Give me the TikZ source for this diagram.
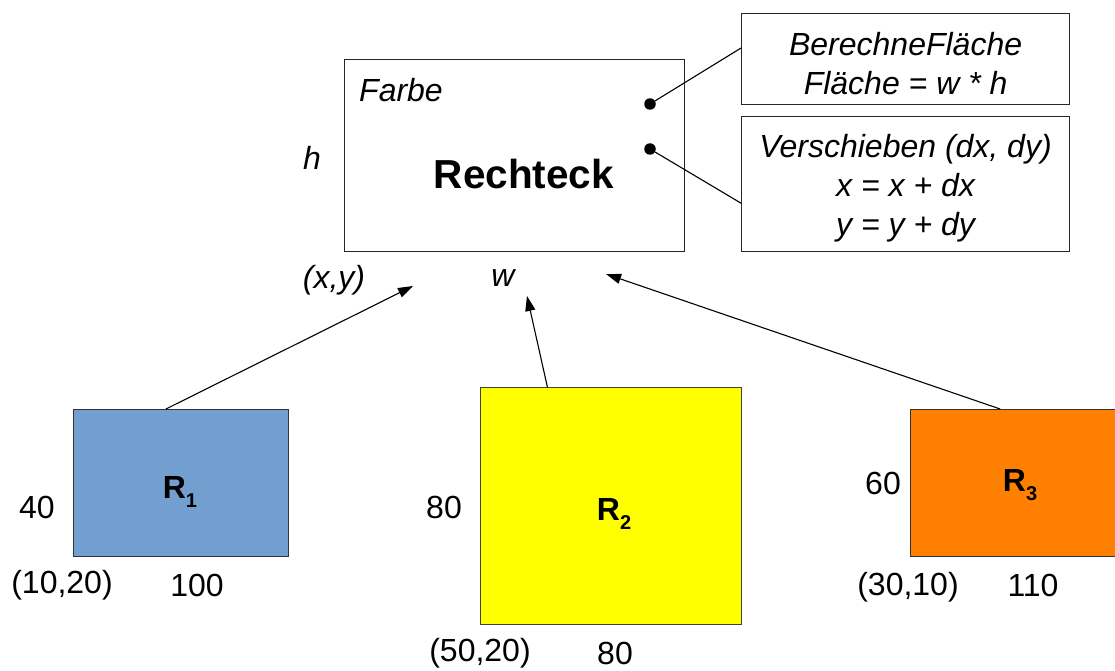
\documentclass[tikz,border=0pt]{standalone}
\usepackage{fontspec}
\setmainfont{Liberation Sans}
\usetikzlibrary{calc,arrows.meta}
\begin{document}
\begin{tikzpicture}[x=1pt,y=-1pt,
  txt/.style={inner sep=0pt, font=\fontsize{32}{38}\selectfont},
  itxt/.style={inner sep=0pt, font=\fontsize{32}{38}\selectfont\itshape},
  rlabel/.style={inner sep=0pt, font=\fontsize{32}{38}\selectfont\bfseries},
  frame/.style={draw=black!85, line width=1.2pt, inner sep=0pt, anchor=north west},
  mtext/.style={inner sep=0pt, align=center, yshift=-4pt, font=\fontsize{32}{39}\selectfont\itshape},
  dot/.style={circle, fill=black, inner sep=0pt, minimum size=11.5pt},
  link/.style={line width=1.1pt},
  inherit/.style={line width=1.1pt, -{Triangle[length=15pt,width=10pt]}}]
\clip (0,0) rectangle (1115,671);
\fill[white] (0,0) rectangle (1115,671);

% class Rechteck
\node[frame, minimum width=340pt, minimum height=192pt] (cls) at (344,59) {};
\node[itxt, anchor=west] (farbe) at (359,90) {Farbe};
\node[inner sep=0pt, font=\fontsize{40.5}{48}\selectfont\bfseries] (name) at (524,174) {Rechteck};
\node[itxt] (h) at (312,158) {h};
\node[itxt] (xy) at (334,280) {(x,y)};
\node[itxt] (w) at (503,278) {w};
\node[dot] (d1) at (650,104) {};
\node[dot] (d2) at (650,149) {};

% methods
\node[frame, minimum width=328pt, minimum height=91pt] (m1) at (741,13) {};
\node[frame, minimum width=328pt, minimum height=135pt] (m2) at (741,116) {};
\node[mtext] (m1t) at (m1.center) {BerechneFläche\\Fläche = w * h};
\node[mtext] (m2t) at (m2.center) {Verschieben (dx, dy)\\x = x + dx\\y = y + dy};
\draw[link] (d1) -- ($(m1.north west)!0.38!(m1.south west)$);
\draw[link] (d2) -- ($(m2.north west)!0.64!(m2.south west)$);

% instances
\node[frame, draw=black!80, fill={rgb,255:red,114;green,159;blue,207}, minimum width=215pt, minimum height=147pt] (r1) at (73,409) {};
\node[frame, draw=black!75, fill={rgb,255:red,255;green,255;blue,0}, minimum width=261pt, minimum height=237pt] (r2) at (480,387) {};
\node[frame, draw=black!80, fill={rgb,255:red,255;green,128;blue,0}, minimum width=236pt, minimum height=147pt] (r3) at (910,409) {};

\node[rlabel] (r1l) at (180,492) {R\raisebox{-0.28em}{\fontsize{20}{20}\selectfont 1}};
\node[rlabel] (r2l) at (614,514) {R\raisebox{-0.28em}{\fontsize{20}{20}\selectfont 2}};
\node[rlabel] (r3l) at (1020,485) {R\raisebox{-0.28em}{\fontsize{20}{20}\selectfont 3}};

\node[txt] (r1h) at (37,507) {40};
\node[txt] (r1p) at (62,585) {(10,20)};
\node[txt] (r1w) at (197,585) {100};
\node[txt] (r2h) at (444,507) {80};
\node[txt] (r2p) at (480,653) {(50,20)};
\node[txt] (r2w) at (615,653) {80};
\node[txt] (r3h) at (883,483) {60};
\node[txt] (r3p) at (908,587) {(30,10)};
\node[txt] (r3w) at (1033,585) {110};

% inheritance arrows
\coordinate (t1) at (413,286);
\coordinate (t2) at (527,296);
\coordinate (t3) at (606,274);
\draw[inherit] ($(r1.north west)!0.43!(r1.north east)$) -- (t1);
\draw[inherit] ($(r2.north west)!0.257!(r2.north east)$) -- (t2);
\draw[inherit] ($(r3.north west)!0.38!(r3.north east)$) -- (t3);
\end{tikzpicture}
\end{document}
